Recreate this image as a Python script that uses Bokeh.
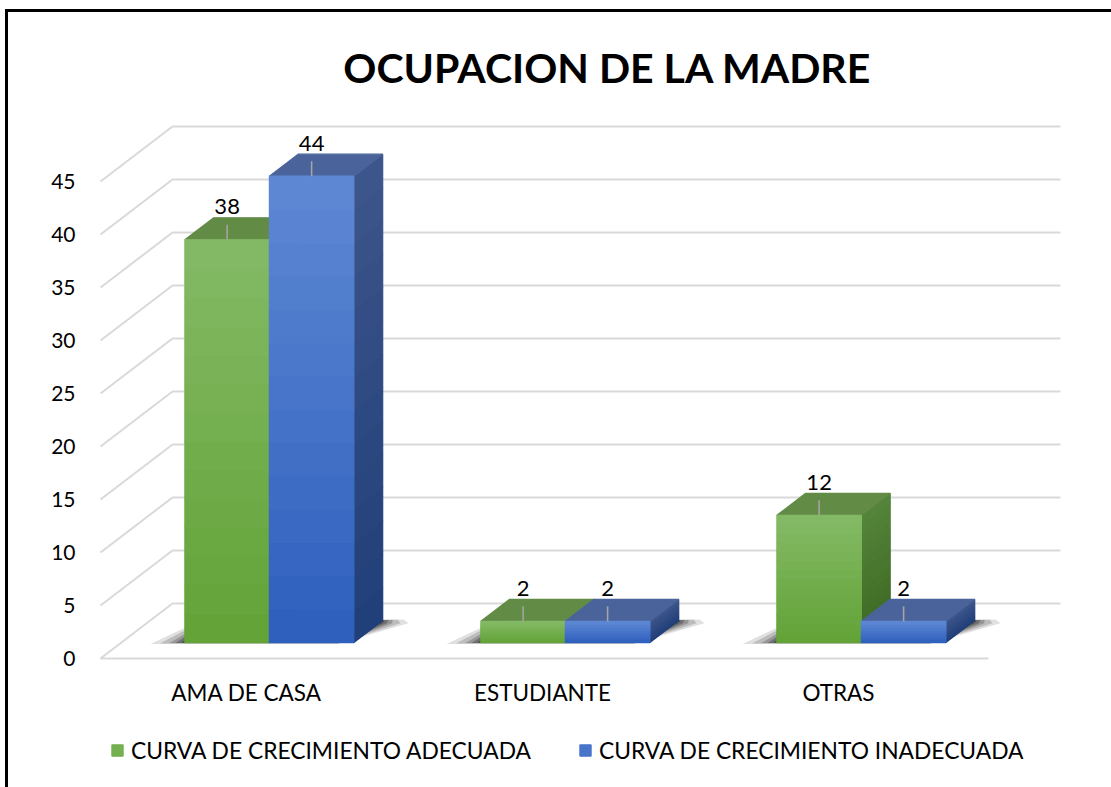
from bokeh.plotting import figure
from bokeh.models import Range1d, FixedTicker, Legend, LegendItem
from bokeh.core.properties import value
from bokeh.embed import file_html
from bokeh.resources import INLINE

# ---------------- data ----------------
chart_title = "OCUPACION DE LA MADRE"
categories = ["AMA DE CASA", "ESTUDIANTE", "OTRAS"]
series_names = ["CURVA DE CRECIMIENTO ADECUADA", "CURVA DE CRECIMIENTO INADECUADA"]
adecuada = [38, 2, 12]
inadecuada = [44, 2, 2]
y_ticks = [0, 5, 10, 15, 20, 25, 30, 35, 40, 45]

# ---------------- style / geometry ----------------
FONT = "Lato"
PXX, PXY = 296.0, 10.6           # pixels per x-unit / per value-unit
DX, DY = 72.0 / PXX, 55.0 / PXY  # full depth offset (oblique projection)
D0, D1 = 0.29, 0.69              # bar depth span
BW = 0.2855                      # bar width (category units)
BANDS = 14                       # shading bands per face

# (front bottom, front top, top face, side bottom, side top)
series_colors = [
    ("#62a236", "#84ba66", "#628b46", "#3d6921", "#55843b"),
    ("#2d5fbd", "#5f88d4", "#4a649b", "#203e78", "#3d568b"),
]

def mix(c0, c1, t):
    a = [int(c0[i:i + 2], 16) for i in (1, 3, 5)]
    b = [int(c1[i:i + 2], 16) for i in (1, 3, 5)]
    return "#" + "".join("%02x" % round(a[k] + (b[k] - a[k]) * t) for k in range(3))

def proj(x, v, d):
    return x + d * DX, v + d * DY

TOP_PX, BOT_PX = 12, 787
p = figure(frame_width=1016, frame_height=BOT_PX - TOP_PX, output_backend="svg",
           toolbar_location=None,
           x_range=Range1d((95 - 100) / PXX, (1111 - 100) / PXX),
           y_range=Range1d((658 - BOT_PX) / PXY, (658 - TOP_PX) / PXY),
           min_border_left=87, min_border_right=0, min_border_top=0, min_border_bottom=0)
p.outline_line_color = None
p.xgrid.visible = False
p.ygrid.visible = False
p.xaxis.visible = False
p.styles = {"border-left": "3px solid black", "border-top": "3px solid black",
            "margin-left": "5px", "margin-top": "9px"}

n = len(categories)

# ---------------- 3D grid ----------------
gx, gy = [], []
for v in y_ticks:
    a = proj(0, v, 0); b = proj(0, v, 1); c = proj(n, v, 1)
    gx.append([a[0], b[0], c[0]]); gy.append([a[1], b[1], c[1]])
f0 = proj(0, 0, 0); f1 = proj(n, 0, 0)
gx.append([f0[0], f1[0]]); gy.append([f0[1], f1[1]])
p.multi_line(gx, gy, line_color="#d9d9d9", line_width=2)

# ---------------- shadows ----------------
for i in range(n):
    xl = i + 0.5 - BW
    xr = i + 0.5 + BW
    for ex, ed, al in [(0.11, 0.07, 0.12), (0.08, 0.05, 0.16), (0.05, 0.035, 0.2),
                       (0.03, 0.02, 0.25), (0.012, 0.01, 0.3)]:
        pts = [proj(xl - ex, 0, D0 - ed * 0.35), proj(xr - 0.05, 0, D0 - ed * 0.35),
               proj(xr + ex * 0.9, 0, D1 - 0.05), proj(xr + ex * 0.6, 0, D1 + ed * 0.3),
               proj(xl - ex * 0.4, 0, D1 + ed * 0.3)]
        p.patch([q[0] for q in pts], [q[1] for q in pts], fill_color="black",
                fill_alpha=al, line_color=None)

# ---------------- bars ----------------
renderers, legend_index = [], []
label_x, label_y, label_t = [], [], []
for s, vals in enumerate([adecuada, inadecuada]):
    cfb, cft, ctop, csb, cst = series_colors[s]
    xs, ys, cols = [], [], []

    def add(poly, c):
        xs.append([q[0] for q in poly]); ys.append([q[1] for q in poly]); cols.append(c)

    for i, v in enumerate(vals):
        x0 = i + 0.5 - BW + s * BW
        x1 = x0 + BW
        for k in range(BANDS):
            va, vb = v * k / BANDS, v * (k + 1) / BANDS
            add([proj(x1, va, D0), proj(x1, vb, D0), proj(x1, vb, D1), proj(x1, va, D1)],
                mix(csb, cst, (k + 0.5) / BANDS))
        add([proj(x0, v, D0), proj(x1, v, D0), proj(x1, v, D1), proj(x0, v, D1)], ctop)
        for k in range(BANDS):
            va, vb = v * k / BANDS, v * (k + 1) / BANDS
            if i == 0 and k == BANDS // 2:
                legend_index.append(len(cols))
            add([proj(x0, va, D0), proj(x1, va, D0), proj(x1, vb, D0), proj(x0, vb, D0)],
                mix(cfb, cft, (k + 0.5) / BANDS))
        xc, yc = proj((x0 + x1) / 2, v, D0)
        label_x.append(xc); label_y.append(yc); label_t.append(str(v))
    r = p.patches(xs, ys, fill_color=cols, line_color=cols, line_width=1.2)
    renderers.append(r)

# leader lines and value labels
p.segment(x0=label_x, y0=label_y, x1=label_x, y1=[y + 15 / PXY for y in label_y],
          line_color="#a6a6a6", line_width=1.5)
p.text(x=label_x, y=label_y, text=label_t, y_offset=-33, text_align="center",
       text_baseline="middle", text_font=value(FONT), text_font_size="22px", text_color="black")

# category labels (front edge of floor)
p.text(x=[i + 0.5 for i in range(n)], y=[0] * n, text=categories, y_offset=34,
       x_offset=-2, text_align="center", text_baseline="middle", text_font=value(FONT),
       text_font_size="22.5px", text_color="black")

# title
p.text(x=[(607 - 100) / PXX], y=[(658 - 67) / PXY], text=[chart_title], text_align="center",
       text_baseline="middle", text_font=value(FONT), text_font_style="bold",
       text_font_size="41px", text_color="black")

# ---------------- y axis ----------------
p.yaxis.ticker = FixedTicker(ticks=y_ticks)
p.yaxis.axis_line_color = None
p.yaxis.major_tick_line_color = None
p.yaxis.minor_tick_line_color = None
p.yaxis.major_tick_out = 0
p.yaxis.major_label_standoff = 20
p.yaxis.major_label_text_font = FONT
p.yaxis.major_label_text_font_size = "21px"
p.yaxis.major_label_text_color = "black"

# ---------------- legend ----------------
legend = Legend(items=[LegendItem(label=series_names[k], renderers=[renderers[k]],
                                  index=legend_index[k]) for k in range(2)],
                orientation="horizontal", location=(15, 23), margin=0, padding=0,
                glyph_width=14, glyph_height=14, label_standoff=7, spacing=47,
                label_height=20, label_text_font=FONT, label_text_font_size="22.8px",
                label_text_color="black", border_line_color=None, background_fill_alpha=0)
p.add_layout(legend)

open("out.html", "w").write(file_html(p, INLINE))
